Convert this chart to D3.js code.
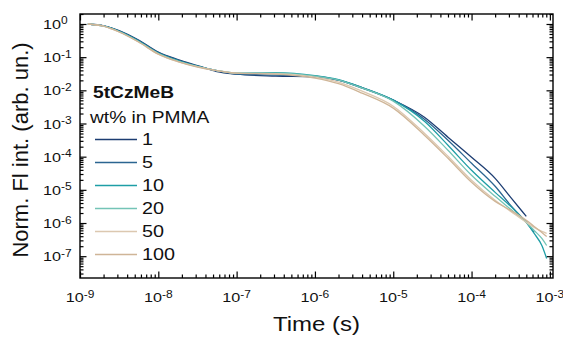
<!DOCTYPE html>
<html>
<head>
<meta charset="utf-8">
<script src="https://cdn.jsdelivr.net/npm/d3@7"></script>
<style>
  body { margin: 0; background: #fff; }
  svg { display: block; font-family: Arial, "Liberation Sans", sans-serif; }
</style>
</head>
<body>
<svg id="chart" width="563" height="338"></svg>
<script>
// time points (s) shared by all series
const times = [1.26e-9, 2e-9, 3.16e-9, 5.6e-9, 1e-8, 1.78e-8, 3.16e-8, 5.6e-8, 1e-7, 3.16e-7,
    1e-6, 2e-6, 4e-6, 1e-5, 2.5e-5, 5e-5, 1e-4, 2e-4, 3.16e-4, 5e-4, 6.3e-4, 7.9e-4, 9.1e-4];

// normalised intensity per loading (null = no data)
const wt1 = [1, 0.88, 0.636, 0.329, 0.1426, 0.0846, 0.0557, 0.0367, 0.0308, 0.0269,
    0.0251, 0.0203, 0.0121, 0.00506, 0.00155, 3.86e-4, 9.6e-5, 2.22e-5, 5.93e-6, 1.58e-6,
    null, null, null];
const wt5 = [1, 0.875, 0.615, 0.318, 0.1377, 0.0817, 0.0538, 0.0394, 0.0308, 0.0288,
    0.0269, 0.0203, 0.01165, 0.00506, 0.00135, 3.13e-4, 6.32e-5, 1.28e-5, 3.4e-6, 1.04e-6,
    5.2e-7, null, null];
const wt10 = [1, 0.87, 0.6, 0.306, 0.133, 0.0789, 0.0538, 0.0394, 0.0331, 0.0343,
    0.0278, 0.021, 0.0121, 0.00506, 0.00117, 2.21e-4, 3.88e-5, 8.4e-6, 3.17e-6, 1.04e-6,
    4.85e-7, 2.1e-7, 8.5e-8];
const wt20 = [1, 0.865, 0.593, 0.296, 0.1285, 0.0762, 0.052, 0.0394, 0.0331, 0.0331,
    0.0269, 0.0203, 0.01165, 0.00472, 8.3e-4, 1.56e-4, 2.74e-5, 6.36e-6, 2.58e-6, 1.04e-6,
    5.97e-7, 3.43e-7, 2.1e-7];
const wt50 = [1, 0.86, 0.573, 0.286, 0.124, 0.0736, 0.052, 0.0394, 0.0331, 0.032,
    0.0251, 0.0177, 0.00946, 0.00333, 5.09e-4, 1.03e-4, 1.94e-5, 4.82e-6, 2.24e-6, 1.04e-6,
    7.4e-7, 5.57e-7, 4.85e-7];
const wt100 = [1, 0.86, 0.573, 0.286, 0.124, 0.0736, 0.0502, 0.0394, 0.0331, 0.0308,
    0.0234, 0.0159, 0.00822, 0.0029, 4.43e-4, 8.95e-5, 1.69e-5, 4.5e-6, 2.4e-6, 1.2e-6,
    7.9e-7, 5.2e-7, 3.94e-7];

const seriesNames = ['1', '5', '10', '20', '50', '100'];
const seriesValues = [wt1, wt5, wt10, wt20, wt50, wt100];
const seriesColors = ['#1c3d72', '#2b6591', '#1e9ea6', '#74c4b6', '#dcc8b0', '#cfb597'];

const xTickExps = [-9, -8, -7, -6, -5, -4, -3];
const yTickExps = [0, -1, -2, -3, -4, -5, -6, -7];

// text in the reference is drawn a bit wide
const STRETCH = 1.2;

// chart area
const margin = { top: 14, right: 10, bottom: 60, left: 80 };
const width = 563 - margin.left - margin.right;
const height = 338 - margin.top - margin.bottom;

const svg = d3.select('#chart')
    .append('g')
    .attr('transform', 'translate(' + margin.left + ',' + margin.top + ')');

const xScale = d3.scaleLog()
    .domain([1e-9, Math.pow(10, -2.96)])
    .range([0, width]);

const yScale = d3.scaleLog()
    .domain([2.2e-8, 2])
    .range([height, 0]);

// minor tick values (2..9 x decade) inside the domain
const minorTicks = (scale, eFrom, eTo) => {
    const [lo, hi] = scale.domain();
    const out = [];
    for (let e = eFrom; e <= eTo; e++) {
        for (let k = 2; k <= 9; k++) {
            const v = k * Math.pow(10, e);
            if (v >= lo && v <= hi) out.push(v);
        }
    }
    return out;
};

const xMajor = xTickExps.map((e) => Math.pow(10, e));
const yMajor = yTickExps.map((e) => Math.pow(10, e));
const xMinor = minorTicks(xScale, -9, -3);
const yMinor = minorTicks(yScale, -8, 0);

const addAxis = (axisFn, scale, values, size, transform) => {
    const g = svg.append('g')
        .attr('transform', transform)
        .call(axisFn(scale).tickValues(values).tickSizeInner(size).tickSizeOuter(0).tickFormat(''));
    g.select('.domain').remove();
    g.selectAll('line').attr('stroke', '#000').attr('stroke-width', 1.2);
};

// ticks point inward on all four sides
addAxis(d3.axisBottom, xScale, xMajor, -6.5, 'translate(0,' + height + ')');
addAxis(d3.axisBottom, xScale, xMinor, -3.5, 'translate(0,' + height + ')');
addAxis(d3.axisTop, xScale, xMajor, -6.5, 'translate(0,0)');
addAxis(d3.axisTop, xScale, xMinor, -3.5, 'translate(0,0)');
addAxis(d3.axisLeft, yScale, yMajor, -6.5, 'translate(0,0)');
addAxis(d3.axisLeft, yScale, yMinor, -3.5, 'translate(0,0)');
addAxis(d3.axisRight, yScale, yMajor, -6.5, 'translate(' + width + ',0)');
addAxis(d3.axisRight, yScale, yMinor, -3.5, 'translate(' + width + ',0)');

// frame
svg.append('rect')
    .attr('width', width)
    .attr('height', height)
    .attr('fill', 'none')
    .attr('stroke', '#000')
    .attr('stroke-width', 1.4);

// text placed at (x, y) and widened
const wideText = (x, y, size) => svg.append('text')
    .attr('transform', 'translate(' + x + ',' + y + ') scale(' + STRETCH + ',1)')
    .attr('font-size', size)
    .attr('fill', '#111');

// tick labels as 10^n
const powLabel = (sel, e) => {
    sel.append('tspan').text('10');
    sel.append('tspan')
        .attr('dy', -4.5)
        .attr('font-size', 10)
        .text(e === 0 ? '0' : '-' + Math.abs(e));
};

xTickExps.forEach((e) => {
    const t = wideText(xScale(Math.pow(10, e)), height + 24, 13.5)
        .attr('text-anchor', 'middle');
    powLabel(t, e);
});

yTickExps.forEach((e) => {
    const t = wideText(-37, yScale(Math.pow(10, e)) + 5, 13.5);
    powLabel(t, e);
});

// axis titles
wideText(width / 2, height + 53, 20)
    .attr('text-anchor', 'middle')
    .text('Time (s)');

svg.append('text')
    .attr('transform', 'rotate(-90)')
    .attr('x', -136)
    .attr('y', -52)
    .attr('text-anchor', 'middle')
    .attr('font-size', 22)
    .attr('fill', '#111')
    .text('Norm. Fl int. (arb. un.)');

// decay curves
const line = d3.line()
    .defined((d) => d.v !== null)
    .x((d) => xScale(d.t))
    .y((d) => yScale(d.v))
    .curve(d3.curveMonotoneX);

seriesValues.forEach((vals, i) => {
    const data = times.map((t, j) => ({ t, v: vals[j] }));
    svg.append('path')
        .datum(data)
        .attr('d', line)
        .attr('fill', 'none')
        .attr('stroke', seriesColors[i])
        .attr('stroke-width', 1.3);
});

// legend
wideText(13, 84, 16)
    .attr('font-weight', 'bold')
    .text('5tCzMeB');
wideText(10, 108.5, 16)
    .text('wt% in PMMA');

seriesNames.forEach((name, i) => {
    const yy = 125.5 + i * 23;
    svg.append('line')
        .attr('x1', 15).attr('x2', 57)
        .attr('y1', yy).attr('y2', yy)
        .attr('stroke', seriesColors[i])
        .attr('stroke-width', 1.3);
    wideText(62, yy + 5, 16.5).text(name);
});
</script>
</body>
</html>
